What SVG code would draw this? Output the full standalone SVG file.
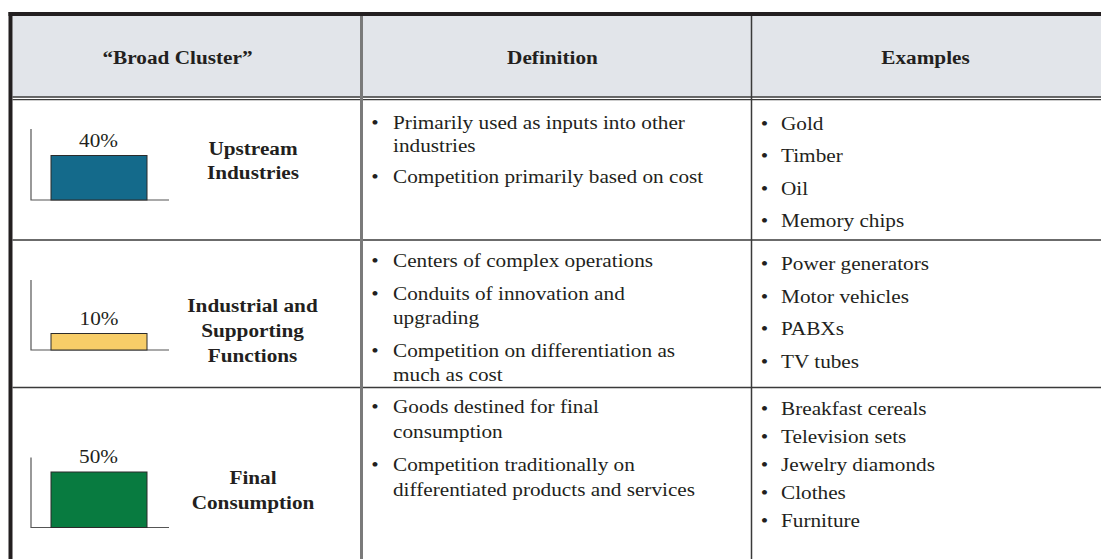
<svg xmlns="http://www.w3.org/2000/svg" width="1101" height="559" viewBox="0 0 1101 559">
<style>
text{font-family:"Liberation Serif","Times New Roman",serif;font-size:19.5px;fill:#231f20}
.b{font-weight:bold}
.m{text-anchor:middle}
.axis{stroke:#555;stroke-width:1.2;fill:none}
.bar{stroke:#2b2b2b;stroke-width:1}
.rule{stroke:#3a3a3a;stroke-width:1.4}
</style>
<rect width="1101" height="559" fill="#ffffff"/>
<g id="header">
<rect x="12.5" y="16" width="1088.5" height="81" fill="#e2e5ea"/>
<text class="b m" transform="translate(177.5 64) scale(1.09 1)">“Broad Cluster”</text>
<text class="b m" transform="translate(552.5 64) scale(1.09 1)">Definition</text>
<text class="b m" transform="translate(925.5 64) scale(1.09 1)">Examples</text>
</g>
<g id="connectors">
<line class="rule" x1="12.5" y1="97" x2="1101" y2="97"/>
<line class="rule" x1="12.5" y1="99.6" x2="1101" y2="99.6"/>
<line class="rule" x1="12.5" y1="240" x2="1101" y2="240"/>
<line class="rule" x1="12.5" y1="387.5" x2="1101" y2="387.5"/>
<line x1="361.5" y1="14" x2="361.5" y2="559" stroke="#7a7a7a" stroke-width="3"/>
<line x1="751.5" y1="14" x2="751.5" y2="559" stroke="#3a3a3a" stroke-width="1.5"/>
<line x1="8.5" y1="14" x2="1101" y2="14" stroke="#231f20" stroke-width="4"/>
<line x1="10.5" y1="12" x2="10.5" y2="559" stroke="#231f20" stroke-width="4"/>
</g>
<g id="upstream">
<g id="upstream-chart">
<polyline class="axis" points="31,129 31,200 169,200"/>
<rect class="bar" x="51" y="155.5" width="96" height="44.5" fill="#146a8b"/>
<text class="m" transform="translate(98.5 146.5) scale(1.09 1)">40%</text>
</g>
<text class="b m" transform="translate(253 155) scale(1.09 1)">Upstream<tspan x="0" dy="24">Industries</tspan></text>
</g>
<g id="upstream-definition">
<text class="m" transform="translate(375 128.5) scale(1.09 1)">•</text>
<text transform="translate(393 128.5) scale(1.09 1)">Primarily used as inputs into other<tspan x="0" dy="24">industries</tspan></text>
<text class="m" transform="translate(375 183) scale(1.09 1)">•</text>
<text transform="translate(393 183) scale(1.09 1)">Competition primarily based on cost</text>
</g>
<g id="upstream-examples">
<text class="m" transform="translate(764.5 129.5) scale(1.09 1)">•</text>
<text transform="translate(781 129.5) scale(1.09 1)">Gold</text>
<text class="m" transform="translate(764.5 162) scale(1.09 1)">•</text>
<text transform="translate(781 162) scale(1.09 1)">Timber</text>
<text class="m" transform="translate(764.5 194.5) scale(1.09 1)">•</text>
<text transform="translate(781 194.5) scale(1.09 1)">Oil</text>
<text class="m" transform="translate(764.5 227) scale(1.09 1)">•</text>
<text transform="translate(781 227) scale(1.09 1)">Memory chips</text>
</g>
<g id="industrial">
<g id="industrial-chart">
<polyline class="axis" points="31,280 31,350 169,350"/>
<rect class="bar" x="51" y="333.5" width="96" height="16.5" fill="#f7cd68"/>
<text class="m" transform="translate(99 325) scale(1.09 1)">10%</text>
</g>
<text class="b m" transform="translate(252.5 312) scale(1.09 1)">Industrial and<tspan x="0" dy="24.8">Supporting</tspan><tspan x="0" dy="24.8">Functions</tspan></text>
</g>
<g id="industrial-definition">
<text class="m" transform="translate(375 267) scale(1.09 1)">•</text>
<text transform="translate(393 267) scale(1.09 1)">Centers of complex operations</text>
<text class="m" transform="translate(375 299.5) scale(1.09 1)">•</text>
<text transform="translate(393 299.5) scale(1.09 1)">Conduits of innovation and<tspan x="0" dy="24.5">upgrading</tspan></text>
<text class="m" transform="translate(375 356.5) scale(1.09 1)">•</text>
<text transform="translate(393 356.5) scale(1.09 1)">Competition on differentiation as<tspan x="0" dy="24.5">much as cost</tspan></text>
</g>
<g id="industrial-examples">
<text class="m" transform="translate(764.5 270) scale(1.09 1)">•</text>
<text transform="translate(781 270) scale(1.09 1)">Power generators</text>
<text class="m" transform="translate(764.5 302.5) scale(1.09 1)">•</text>
<text transform="translate(781 302.5) scale(1.09 1)">Motor vehicles</text>
<text class="m" transform="translate(764.5 335) scale(1.09 1)">•</text>
<text transform="translate(781 335) scale(1.09 1)">PABXs</text>
<text class="m" transform="translate(764.5 367.5) scale(1.09 1)">•</text>
<text transform="translate(781 367.5) scale(1.09 1)">TV tubes</text>
</g>
<g id="final">
<g id="final-chart">
<polyline class="axis" points="31,457.5 31,527.5 169,527.5"/>
<rect class="bar" x="51" y="472" width="96" height="55.5" fill="#087b40"/>
<text class="m" transform="translate(98.5 462.5) scale(1.09 1)">50%</text>
</g>
<text class="b m" transform="translate(253 484) scale(1.09 1)">Final<tspan x="0" dy="24.6">Consumption</tspan></text>
</g>
<g id="final-definition">
<text class="m" transform="translate(375 413) scale(1.09 1)">•</text>
<text transform="translate(393 413) scale(1.09 1)">Goods destined for final<tspan x="0" dy="25">consumption</tspan></text>
<text class="m" transform="translate(375 471) scale(1.09 1)">•</text>
<text transform="translate(393 471) scale(1.09 1)">Competition traditionally on<tspan x="0" dy="25">differentiated products and services</tspan></text>
</g>
<g id="final-examples">
<text class="m" transform="translate(764.5 415) scale(1.09 1)">•</text>
<text transform="translate(781 415) scale(1.09 1)">Breakfast cereals</text>
<text class="m" transform="translate(764.5 443) scale(1.09 1)">•</text>
<text transform="translate(781 443) scale(1.09 1)">Television sets</text>
<text class="m" transform="translate(764.5 471) scale(1.09 1)">•</text>
<text transform="translate(781 471) scale(1.09 1)">Jewelry diamonds</text>
<text class="m" transform="translate(764.5 499) scale(1.09 1)">•</text>
<text transform="translate(781 499) scale(1.09 1)">Clothes</text>
<text class="m" transform="translate(764.5 527) scale(1.09 1)">•</text>
<text transform="translate(781 527) scale(1.09 1)">Furniture</text>
</g>
</svg>
